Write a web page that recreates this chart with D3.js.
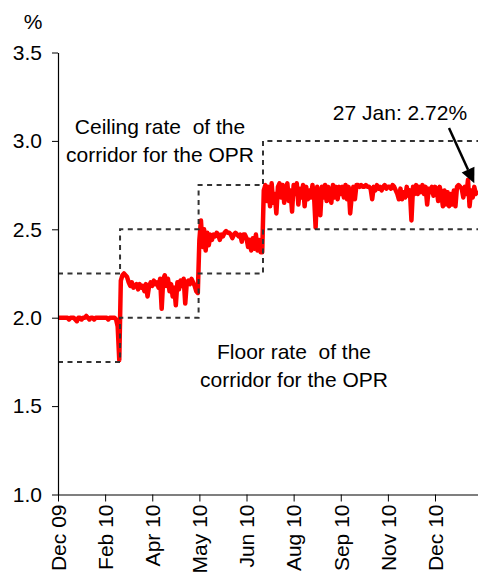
<!DOCTYPE html>
<html>
<head>
<meta charset="utf-8">
<script src="https://cdn.jsdelivr.net/npm/d3@7"></script>
<style>
  body { margin: 0; background: #fff; }
  svg { display: block; font-family: "Liberation Sans", Arial, sans-serif; }
  text { white-space: pre; }
</style>
</head>
<body>
<svg id="chart"></svg>
<script>
// Overnight interbank rate vs the corridor for the OPR (daily observations)
const rate = [
  // Dec 09 - early Mar 10
  2.00, 2.00, 2.00, 2.00, 2.00, 2.00, 2.00, 1.99, 2.00, 2.00,
  2.00, 1.99, 1.98, 2.00, 2.00, 1.99, 2.00, 2.00, 2.01, 2.00,
  1.99, 2.00, 2.00, 1.99, 2.00, 2.00, 2.00, 2.00, 2.00, 2.00,
  2.00, 2.00, 1.99, 2.00, 2.00, 2.00, 2.00, 1.99, 1.95, 1.76,
  // Mar 10 - May 10
  2.21, 2.24, 2.25, 2.24, 2.23, 2.20, 2.18, 2.20, 2.17, 2.18,
  2.19, 2.16, 2.19, 2.17, 2.18, 2.15, 2.19, 2.12, 2.18, 2.20,
  2.18, 2.21, 2.19, 2.20, 2.17, 2.22, 2.05, 2.22, 2.24, 2.18,
  2.22, 2.15, 2.19, 2.12, 2.17, 2.07, 2.20, 2.16, 2.21, 2.18,
  2.22, 2.08, 2.20, 2.21, 2.19, 2.22, 2.20, 2.18, 2.15, 2.14,
  // May 10 - Jul 10
  2.44, 2.55, 2.40, 2.50, 2.38, 2.48, 2.41, 2.47, 2.44, 2.47,
  2.46, 2.48, 2.47, 2.44, 2.47, 2.46, 2.48, 2.49, 2.48, 2.48,
  2.47, 2.45, 2.47, 2.48, 2.47, 2.46, 2.47, 2.43, 2.47, 2.47,
  2.45, 2.40, 2.44, 2.38, 2.45, 2.39, 2.47, 2.38, 2.44, 2.37,
  2.37,
  // Jul 10 - 27 Jan 11
  2.72, 2.75, 2.66, 2.74, 2.63, 2.76, 2.65, 2.70, 2.59, 2.74,
  2.76, 2.68, 2.75, 2.65, 2.73, 2.76, 2.66, 2.72, 2.60, 2.75,
  2.70, 2.76, 2.64, 2.73, 2.68, 2.75, 2.63, 2.74, 2.67, 2.72,
  2.68, 2.75, 2.69, 2.51, 2.74, 2.67, 2.58, 2.74, 2.68, 2.75,
  2.66, 2.74, 2.69, 2.65, 2.75, 2.68, 2.74, 2.67, 2.74, 2.70,
  2.74, 2.68, 2.75, 2.67, 2.74, 2.59, 2.69, 2.74, 2.67, 2.75,
  2.75, 2.74, 2.75, 2.74, 2.74, 2.75, 2.74, 2.74, 2.73, 2.67,
  2.74, 2.72, 2.75, 2.73, 2.74, 2.72, 2.74, 2.75, 2.73, 2.74,
  2.74, 2.73, 2.75, 2.74, 2.72, 2.70, 2.67, 2.73, 2.67, 2.71,
  2.68, 2.74, 2.69, 2.72, 2.55, 2.74, 2.70, 2.75, 2.70, 2.74,
  2.71, 2.75, 2.70, 2.74, 2.64, 2.73, 2.71, 2.74, 2.69, 2.74,
  2.73, 2.66, 2.74, 2.70, 2.63, 2.72, 2.64, 2.71, 2.63, 2.70,
  2.64, 2.72, 2.63, 2.74, 2.75, 2.74, 2.73, 2.68, 2.74, 2.70,
  2.78, 2.63, 2.72, 2.68, 2.74, 2.70, 2.72
];

// corridor: first observation of each OPR level
const hikeStart = [0, 40, 90, 131];
const floorRate = [1.75, 2.00, 2.25, 2.50];
const ceilingRate = [2.25, 2.50, 2.75, 3.00];

const xTickLabels = ["Dec 09", "Feb 10", "Apr 10", "May 10", "Jun 10", "Aug 10", "Sep 10", "Nov 10", "Dec 10"];
const xTickEvery = 30;
const yTicks = [1.0, 1.5, 2.0, 2.5, 3.0, 3.5];

const width = 478, height = 577;
const font = 21;

const svg = d3.select("#chart").attr("width", width).attr("height", height);

const x = d3.scaleLinear().domain([0, rate.length]).range([58, 479]);
const y = d3.scaleLinear().domain([1.0, 3.5]).range([494.5, 52.5]);

function drawAxes() {
  const yAxis = svg.append("g")
    .attr("transform", "translate(58,0)")
    .call(d3.axisLeft(y).tickValues(yTicks).tickFormat(d3.format(".1f"))
      .tickSize(6).tickSizeOuter(0).tickPadding(10));

  const xAxis = svg.append("g")
    .attr("transform", "translate(0,494.5)")
    .call(d3.axisBottom(x).tickValues(xTickLabels.map((d, i) => i * xTickEvery))
      .tickFormat((d, i) => xTickLabels[i]).tickSize(7).tickSizeOuter(0));

  [yAxis, xAxis].forEach(a => {
    a.select(".domain").attr("stroke", "#000").attr("stroke-width", 1.2);
    a.selectAll(".tick line").attr("stroke", "#000");
    a.selectAll("text").attr("fill", "#000").style("font-size", font + "px")
      .style("font-family", '"Liberation Sans", Arial, sans-serif');
  });

  xAxis.selectAll(".tick text")
    .attr("transform", "rotate(-90)")
    .attr("text-anchor", "end")
    .attr("x", -10)
    .attr("y", 0)
    .attr("dy", "0.35em");

  svg.append("text")
    .attr("x", 33).attr("y", 29)
    .attr("text-anchor", "middle")
    .style("font-size", font + "px")
    .text("%");
}

function corridorPoints(levels) {
  const pts = hikeStart.map((s, i) => [i === 0 ? s : s - 0.5, levels[i]]);
  pts.push([rate.length, levels[levels.length - 1]]);
  return pts;
}

function drawSeries() {
  const line = d3.line()
    .x((d, i) => x(i))
    .y(d => y(d));

  svg.append("path")
    .datum(rate)
    .attr("fill", "none")
    .attr("stroke", "#ff0000")
    .attr("stroke-width", 4.5)
    .attr("stroke-linejoin", "round")
    .attr("d", line);

  const step = d3.line()
    .x(d => x(d[0]))
    .y(d => y(d[1]))
    .curve(d3.curveStepAfter);

  [floorRate, ceilingRate].forEach(levels => {
    svg.append("path")
      .datum(corridorPoints(levels))
      .attr("fill", "none")
      .attr("stroke", "#333")
      .attr("stroke-width", 2)
      .attr("stroke-dasharray", "5,4.5")
      .attr("d", step);
  });
}

function drawNotes() {
  const notes = [
    { x: 160, y: 134, text: "Ceiling rate  of the" },
    { x: 160, y: 162, text: "corridor for the OPR" },
    { x: 294, y: 359, text: "Floor rate  of the" },
    { x: 294, y: 387, text: "corridor for the OPR" },
    { x: 400, y: 120, text: "27 Jan: " + rate[rate.length - 1].toFixed(2) + "%" }
  ];

  svg.selectAll(".note")
    .data(notes)
    .enter()
    .append("text")
    .attr("class", "note")
    .attr("x", d => d.x)
    .attr("y", d => d.y)
    .attr("text-anchor", "middle")
    .attr("fill", "#000")
    .style("font-size", font + "px")
    .text(d => d.text);

  // arrow pointing to the last observation
  const from = [449, 128];
  const to = [x(rate.length - 3), y(2.76)];
  const ang = Math.atan2(to[1] - from[1], to[0] - from[0]);
  const headLen = 15, headHalf = 7;
  const base = [to[0] - headLen * Math.cos(ang), to[1] - headLen * Math.sin(ang)];

  svg.append("line")
    .attr("x1", from[0]).attr("y1", from[1])
    .attr("x2", base[0]).attr("y2", base[1])
    .attr("stroke", "#000")
    .attr("stroke-width", 2.5);

  svg.append("path")
    .attr("d", d3.line()([
      to,
      [base[0] + headHalf * Math.sin(ang), base[1] - headHalf * Math.cos(ang)],
      [base[0] - headHalf * Math.sin(ang), base[1] + headHalf * Math.cos(ang)]
    ]) + "Z")
    .attr("fill", "#000");
}

drawSeries();
drawAxes();
drawNotes();
</script>
</body>
</html>
